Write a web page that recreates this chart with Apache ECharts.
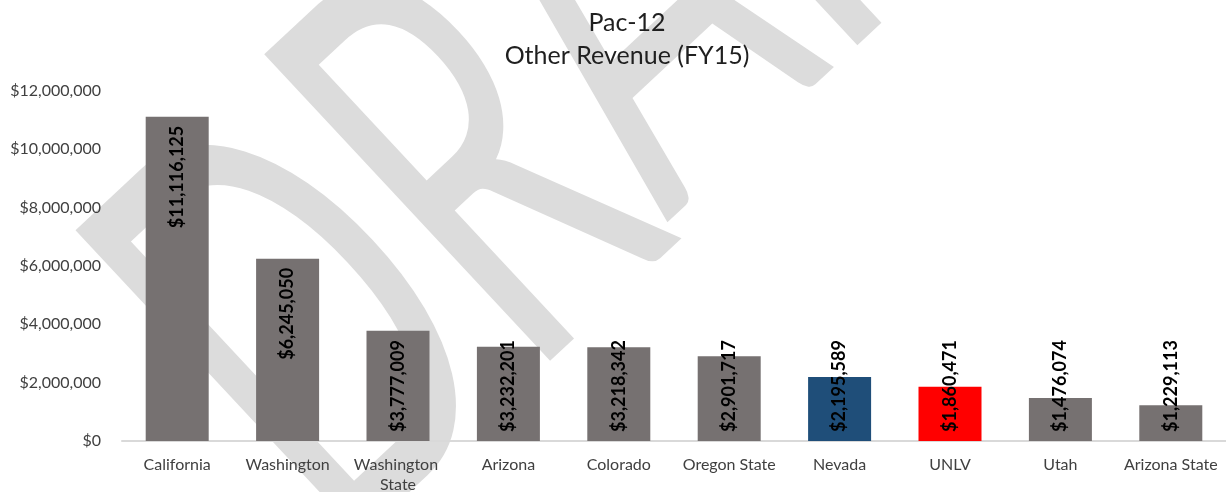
<!DOCTYPE html>
<html>
<head>
<meta charset="utf-8">
<script src="https://cdn.jsdelivr.net/npm/echarts@6/dist/echarts.min.js"></script>
<style>
html,body{margin:0;padding:0;background:#fff;}
#chart{width:1226px;height:492px;}
</style>
</head>
<body>
<div id="chart"></div>
<script>
const categories = ['California','Washington','Washington State','Arizona','Colorado','Oregon State','Nevada','UNLV','Utah','Arizona State'];
const revenue = [11116125, 6245050, 3777009, 3232201, 3218342, 2901717, 2195589, 1860471, 1476074, 1229113];
const yTicks = [0, 2000000, 4000000, 6000000, 8000000, 10000000, 12000000];
const titleLines = ['Pac-12', 'Other Revenue (FY15)'];
const watermarkParts = ['DR', 'AFT'];

const baseColor = '#767171';
const highlight = { 'Nevada': '#1f4e79', 'UNLV': '#ff0000' };
const FONT = 'Lato, "Open Sans", sans-serif';
const money = v => '$' + Math.round(v).toLocaleString('en-US');

const chart = echarts.init(document.getElementById('chart'), null, { renderer: 'canvas' });

const data = revenue.map((v, i) => {
  const tall = v > 4000000;
  return {
    value: v,
    itemStyle: { color: highlight[categories[i]] || baseColor },
    label: tall ? { position: 'insideTop', align: 'right' } : { position: 'insideBottom', align: 'left' }
  };
});

const wmAnchors = [[210, 420], [538, 85]];
const watermark = watermarkParts.map((t, i) => ({
  type: 'text',
  z: -10,
  silent: true,
  x: wmAnchors[i][0], y: wmAnchors[i][1],
  rotation: 43 * Math.PI / 180,
  scaleX: 0.58, scaleY: 1,
  style: {
    text: t,
    x: 0, y: 0,
    fontSize: 585,
    fontFamily: 'Lato',
    fontWeight: 'normal',
    fill: '#dcdcdc',
    align: 'left',
    verticalAlign: 'middle'
  }
}));

const option = {
  animation: false,
  backgroundColor: '#ffffff',
  graphic: watermark,
  title: {
    text: titleLines.join('\n'),
    left: 622,
    top: 1,
    textAlign: 'center',
    textStyle: { fontFamily: FONT, fontSize: 25, fontWeight: 'normal', color: '#1f1f1f', lineHeight: 33 }
  },
  grid: { left: 122, right: 0, top: 91, bottom: 51, containLabel: false, outerBoundsMode: 'none' },
  xAxis: {
    type: 'category',
    data: categories,
    axisLine: { lineStyle: { color: '#d9d9d9', width: 2 } },
    axisTick: { show: false },
    axisLabel: {
      interval: 0, margin: 14, color: '#404040', fontFamily: FONT, fontSize: 16,
      width: 108, overflow: 'break', lineHeight: 20
    }
  },
  yAxis: {
    type: 'value',
    min: yTicks[0], max: yTicks[yTicks.length - 1], interval: yTicks[1] - yTicks[0],
    splitLine: { show: false },
    axisLine: { show: false },
    axisTick: { show: false },
    axisLabel: { margin: 21, color: '#404040', fontFamily: FONT, fontSize: 16, formatter: money }
  },
  series: [{
    type: 'bar',
    data: data,
    barWidth: 63,
    label: {
      show: true,
      rotate: 90,
      distance: 9,
      verticalAlign: 'middle',
      fontFamily: FONT,
      fontSize: 18,
      fontWeight: 'bold',
      color: '#000000',
      formatter: p => money(p.value)
    }
  }]
};
chart.setOption(option);
</script>
</body>
</html>
